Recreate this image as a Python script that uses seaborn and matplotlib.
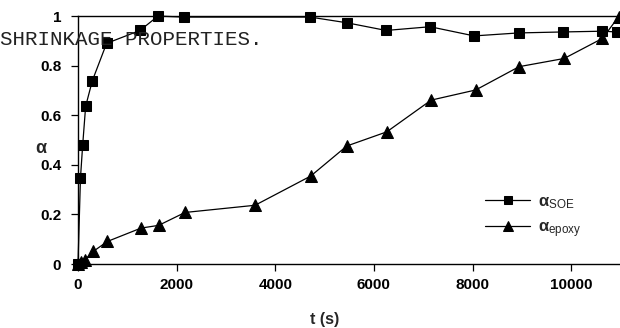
import matplotlib
matplotlib.use("Agg")
import matplotlib.pyplot as plt
import seaborn as sns
import pandas as pd

# degree of cure vs time
t_soe = [0, 50, 95, 155, 290, 580, 1257, 1622, 2143, 4706, 5450, 6247, 7140, 8032, 8932, 9844, 10635, 10925]
a_soe = [0, 0.347, 0.48, 0.636, 0.739, 0.89, 0.942, 1.0, 0.996, 0.996, 0.973, 0.942, 0.957, 0.92, 0.932, 0.936, 0.939, 0.936]

t_epoxy = [0, 70, 140, 310, 595, 1278, 1636, 2170, 3590, 4720, 5450, 6260, 7160, 8065, 8945, 9858, 10635, 10960]
a_epoxy = [0, 0.008, 0.017, 0.051, 0.091, 0.145, 0.156, 0.208, 0.237, 0.355, 0.476, 0.533, 0.661, 0.702, 0.796, 0.829, 0.91, 0.997]

x_ticks = [0, 2000, 4000, 6000, 8000, 10000]
y_ticks = [0, 0.2, 0.4, 0.6, 0.8, 1]
y_tick_labels = ["0", "0.2", "0.4", "0.6", "0.8", "1"]

sns.set_style("ticks")
plt.rcParams['font.family'] = ['Liberation Sans', 'DejaVu Sans']
plt.rcParams['mathtext.fontset'] = 'custom'
plt.rcParams['mathtext.rm'] = 'Liberation Sans'
plt.rcParams['mathtext.it'] = 'Liberation Sans'
plt.rcParams['mathtext.bf'] = 'Liberation Sans:bold'

df_soe = pd.DataFrame({"t": t_soe, "alpha": a_soe})
df_epoxy = pd.DataFrame({"t": t_epoxy, "alpha": a_epoxy})

fig = plt.figure(figsize=(6.2, 3.28), dpi=100)
ax = fig.add_axes([0.1258, 0.195, 0.8742, 0.756])

sns.lineplot(data=df_soe, x="t", y="alpha", ax=ax, color="black", marker="s",
             markersize=7, linewidth=0.9, sort=False, label="α$_{\\mathrm{SOE}}$",
             markeredgecolor="black", clip_on=False, zorder=3)
sns.lineplot(data=df_epoxy, x="t", y="alpha", ax=ax, color="black", marker="^",
             markersize=8.5, linewidth=0.9, sort=False, label="α$_{\\mathrm{epoxy}}$",
             markeredgecolor="black", clip_on=False, zorder=3)

ax.set_xlim(0, 10990)
ax.set_ylim(0, 1)
ax.set_xticks(x_ticks)
ax.set_xticklabels([str(v) for v in x_ticks], fontsize=11, fontweight="bold")
ax.set_yticks(y_ticks)
ax.set_yticklabels(y_tick_labels, fontsize=11, fontweight="bold")
ax.tick_params(direction="out", length=5, width=0.9, colors="black", pad=5)
ax.tick_params(axis="y", pad=7)
for side in ["left", "bottom", "top"]:
    ax.spines[side].set_linewidth(1.0)
    ax.spines[side].set_color("black")
ax.spines["right"].set_visible(False)

ax.set_xlabel("t (s)", fontsize=11.5, fontweight="bold")
ax.xaxis.set_label_coords(0.4545, -0.222)
ax.xaxis.label.set_va("center")
ax.set_ylabel("α", fontsize=13, fontweight="bold", rotation=0, va="center", ha="center")
ax.yaxis.set_label_coords(-0.068, 0.465)

leg = ax.legend(loc="center left", bbox_to_anchor=(0.724, 0.19), frameon=False,
                fontsize=12, handlelength=2.7, handletextpad=0.48, labelspacing=0.55,
                markerscale=0.85)
for txt in leg.get_texts():
    txt.set_fontweight("bold")

fig.text(0.0, 0.862, "SHRINKAGE PROPERTIES.", family="Liberation Mono", fontsize=15,
         color="#222222", va="baseline", ha="left")

fig.savefig("out.png", dpi=100)
plt.close(fig)
